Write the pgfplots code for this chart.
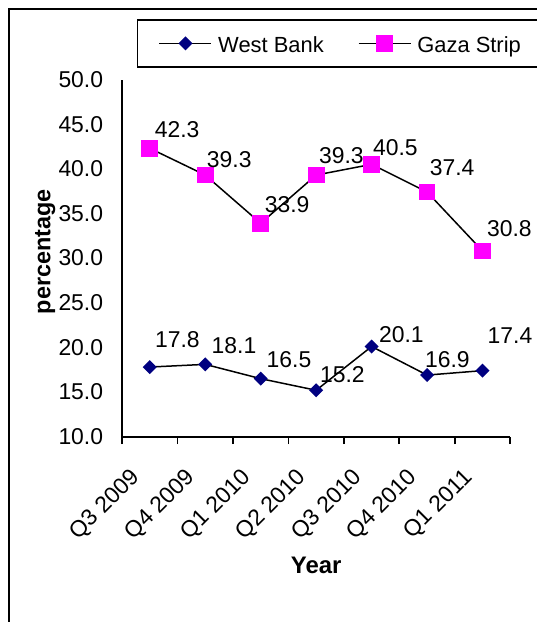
\documentclass[border=0pt]{standalone}
\usepackage{fontspec}
\setmainfont{Liberation Sans}
\usepackage{pgfplots}
\usepackage{pgfplotstable}
\pgfplotsset{compat=1.18}

\definecolor{wbnavy}{HTML}{000080}
\definecolor{gzmag}{HTML}{FF00FF}

% x = quarter index, dx/dy = label offset in bp
\pgfplotstableread{
x y dx dy
0 17.8 4.6 18.7
1 18.1 5.7 9.4
2 16.5 5.3 10.4
3 15.2 3.2 6.3
4 20.1 6.7 3.3
5 16.9 -2.8 6.5
6 17.4 4.4 26
}\westbank

\pgfplotstableread{
x y dx dy
0 42.3 4.3 10
1 39.3 1 6.8
2 33.9 3.4 10
3 39.3 2.2 11
4 40.5 0.7 7.7
5 37.4 2 15.8
6 30.8 3.8 13.5
}\gaza

\begin{document}
\begin{tikzpicture}
\useasboundingbox (0,0) rectangle (537bp,-622bp);
\draw[line width=1.5bp] (9.2bp,-640bp) -- (9.2bp,-9.2bp) -- (560bp,-9.2bp);
\begin{axis}[
  at={(122bp,-436.7bp)}, anchor=south west,
  width=388.3bp, height=357.2bp, scale only axis,
  xmin=-0.5, xmax=6.5, ymin=10, ymax=50,
  axis x line=bottom, axis y line=left,
  axis line style={-, line width=1.8bp},
  xtick={0,...,6},
  xticklabels={Q3 2009,Q4 2009,Q1 2010,Q2 2010,Q3 2010,Q4 2010,Q1 2011},
  minor xtick={-0.5,0.5,...,6.5},
  ytick={10,15,...,50},
  yticklabel={\pgfmathprintnumber[fixed,fixed zerofill,precision=1,assume math mode=true]{\tick}},
  tick align=outside,
  major tick length=0pt, minor tick length=7.5bp,
  every tick/.style={black, line width=1.8bp},
  tick label style={font=\fontsize{23}{27}\selectfont, inner sep=0pt},
  yticklabel style={anchor=east, xshift=-18.7bp},
  xticklabel style={font=\fontsize{23}{27}\selectfont, anchor=north east, xshift=-20.6bp, yshift=-30bp, rotate=45},
  xlabel={Year},
  xlabel style={at={(axis description cs:0.5,-0.359)}, anchor=center, font=\fontsize{24}{28}\selectfont\bfseries},
  ylabel={percentage},
  ylabel style={at={(axis description cs:-0.198,0.518)}, anchor=center, font=\fontsize{23.5}{28}\selectfont\bfseries},
  legend columns=2,
  legend image code/.code={\draw[mark repeat=2,mark phase=2] plot coordinates {(0bp,0bp) (26bp,0bp) (52bp,0bp)};},
  legend style={at={(0.0386,1.1685)}, anchor=north west, draw=black, line width=1.5bp,
    inner xsep=21bp, inner ysep=10bp,
    font=\fontsize{22}{26}\selectfont,
    nodes={inner sep=0pt, text height=22.4bp, text depth=4.3bp},
    /tikz/every odd column/.append style={column sep=6bp},
    /tikz/every even column/.append style={column sep=34bp}},
  nodes near coords={\pgfmathprintnumber[fixed,fixed zerofill,precision=1,assume math mode=true]{\pgfplotspointmeta}},
  visualization depends on={\thisrow{dx} \as \dx},
  visualization depends on={\thisrow{dy} \as \dy},
  every node near coord/.append style={anchor=south west, inner sep=0pt, xshift=\dx bp, yshift=\dy bp,
    font=\fontsize{23}{27}\selectfont, text=black},
]
\addplot[black, line width=1.5bp, mark=square*, mark size=4.2bp,
  mark options={rotate=45, fill=wbnavy, draw=wbnavy}] table[x=x, y=y] {\westbank};
\addlegendentry{West Bank}
\addplot[black, line width=1.5bp, mark=square*, mark size=7.6bp,
  mark options={fill=gzmag, draw=gzmag}] table[x=x, y=y] {\gaza};
\addlegendentry{Gaza Strip}
\end{axis}
\end{tikzpicture}
\end{document}
